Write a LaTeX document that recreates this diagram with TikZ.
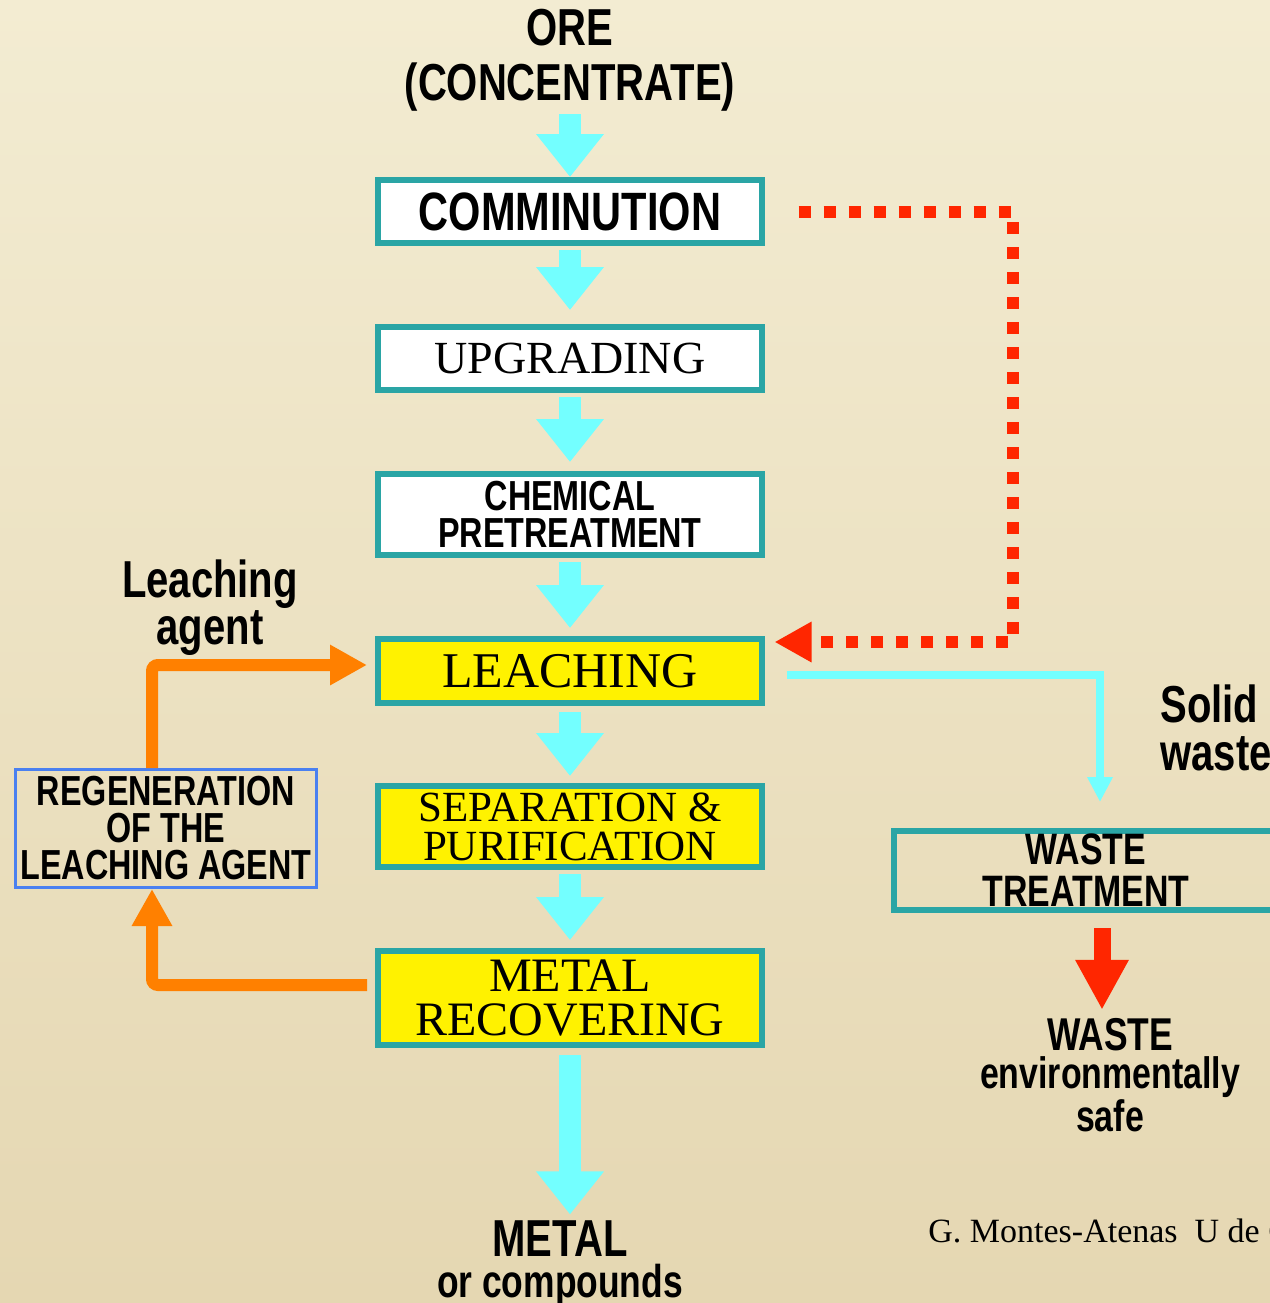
\documentclass[tikz,border=0pt]{standalone}
\usepackage{fontspec}
\setmainfont{Liberation Serif}
\newfontfamily\narrowsans[FakeStretch=0.77]{Liberation Sans}
\usetikzlibrary{arrows.meta, positioning, calc}

\definecolor{slidebg}{RGB}{243,236,210}
\definecolor{slidebgdark}{RGB}{229,215,178}
\definecolor{boxteal}{RGB}{42,165,165}
\definecolor{flowcyan}{RGB}{115,255,255}
\definecolor{wastered}{RGB}{255,38,0}
\definecolor{agentorange}{RGB}{255,128,0}
\definecolor{regenblue}{RGB}{74,128,240}

\begin{document}
\begin{tikzpicture}[
        x=0.5pt, y=-0.5pt,
        stage/.style={rectangle, draw=boxteal, line width=3pt, fill=white, minimum width=192pt, minimum height=31.5pt, inner sep=0pt, align=center},
        hotstage/.style={stage, fill=yellow},
        label/.style={inner sep=0pt, align=center},
        flow/.style={draw=flowcyan, line width=11pt, -{Triangle[length=21.5pt, width=32.5pt]}, shorten <=2pt, shorten >=4pt},
        solidflow/.style={draw=flowcyan, line width=4pt, -{Triangle[length=12.5pt, width=12pt]}},
        recycleflow/.style={draw=wastered, line width=6pt, dash pattern=on 6pt off 6.5pt, -{Triangle[length=18.5pt, width=19pt]}},
        agentflow/.style={draw=agentorange, line width=6pt, rounded corners=3pt, -{Triangle[length=18.5pt, width=19pt]}},
        safeflow/.style={draw=wastered, line width=8.5pt, -{Triangle[length=25pt, width=25pt]}}
    ]
        % BACKGROUND
        \useasboundingbox (0,0) rectangle (1270,1303);
        \shade[top color=slidebg, bottom color=slidebgdark] (0,0) rectangle (1270,1303);

        % MAIN LINE
        \node[label, font=\narrowsans\bfseries\fontsize{26}{27.5}\selectfont] (ore) at (570,60) {ORE\\(CONCENTRATE)};
        \node[stage, font=\narrowsans\bfseries\fontsize{27}{30}\selectfont] (comm) at (570,211.5) {COMMINUTION};
        \node[stage, font=\fontsize{23}{25}\selectfont] (upg) at (570,358.5) {UPGRADING};
        \node[stage, minimum height=40.5pt, font=\narrowsans\bfseries\fontsize{21}{18.5}\selectfont] (chem) at (570,514.5) {CHEMICAL\\PRETREATMENT};
        \node[hotstage, minimum height=32pt, font=\fontsize{25}{27}\selectfont] (leach) at (570,671) {LEACHING};
        \node[hotstage, minimum height=40.5pt, font=\fontsize{21.5}{19.5}\selectfont] (sep) at (570,826.5) {SEPARATION \&\\PURIFICATION};
        \node[hotstage, minimum height=47pt, font=\fontsize{24}{22}\selectfont] (metal) at (570,998) {METAL\\RECOVERING};
        \node[label, font=\narrowsans\bfseries\fontsize{23}{20.5}\selectfont] (product) at (560,1264) {{\fontsize{26}{26}\selectfont METAL}\\or compounds};

        % LEACHING AGENT LOOP
        \node[label, font=\narrowsans\bfseries\fontsize{26}{23.5}\selectfont] (agent) at (210,608) {Leaching\\agent};
        \node[draw=regenblue, line width=1.5pt, minimum width=150.5pt, minimum height=59pt, inner sep=0pt, align=center, font=\narrowsans\bfseries\fontsize{21}{18.5}\selectfont] (regen) at (166,828.5) {REGENERATION\\OF THE\\LEACHING AGENT};

        % WASTE BRANCH
        \node[label, anchor=west, align=left, font=\narrowsans\bfseries\fontsize{26}{24}\selectfont] (solid) at (1160,728) {Solid\\waste};
        \node[stage, fill=none, minimum height=39.5pt, font=\narrowsans\bfseries\fontsize{22}{21}\selectfont] (wtreat) at (1086,870.5) {WASTE\\TREATMENT};
        \node[label, font=\narrowsans\bfseries\fontsize{22}{19}\selectfont] (wsafe) at (1110,1075) {{\fontsize{23}{23}\selectfont WASTE}\\environmentally\\safe};
        \node[anchor=base west, inner sep=0pt, font=\fontsize{17}{20}\selectfont] (credit) at (928,1242) {G. Montes-Atenas\ \ U de C};

        \coordinate (recycle) at (1013,642);
        \coordinate (solidturn) at (1100,675);

        % FLOWS
        \draw[flow, shorten <=1.5pt, shorten >=0pt] (ore.south) -- (comm.north);
        \draw[flow, shorten >=7pt] (comm.south) -- (upg.north);
        \draw[flow, shorten >=4.5pt] (upg.south) -- (chem.north);
        \draw[flow] (chem.south) -- (leach.north);
        \draw[flow, shorten <=3pt, shorten >=3.5pt] (leach.south) -- (sep.north);
        \draw[flow] (sep.south) -- (metal.north);
        \draw[flow, shorten <=3.5pt, shorten >=3pt] (metal.south) -- (metal.south |- product.north);

        \draw[recycleflow, shorten <=16.75pt, shorten >=4.75pt] (comm.east) -| (recycle) -- (recycle -| leach.east);
        \draw[solidflow, shorten <=10.75pt, shorten >=13pt] (solidturn -| leach.east) -- (solidturn) -- (solidturn |- wtreat.north);

        \draw[agentflow, shorten >=4pt] ([xshift=-7pt]regen.north) |- ([yshift=3pt]leach.west);
        \draw[agentflow, shorten <=4pt] ([yshift=6.5pt]metal.west) -| ([xshift=-7pt]regen.south);

        \draw[safeflow, shorten <=7.5pt, shorten >=4pt] ([xshift=8pt]wtreat.south) -- ([xshift=8pt]wtreat.south |- wsafe.north);

    \end{tikzpicture}
\end{document}
